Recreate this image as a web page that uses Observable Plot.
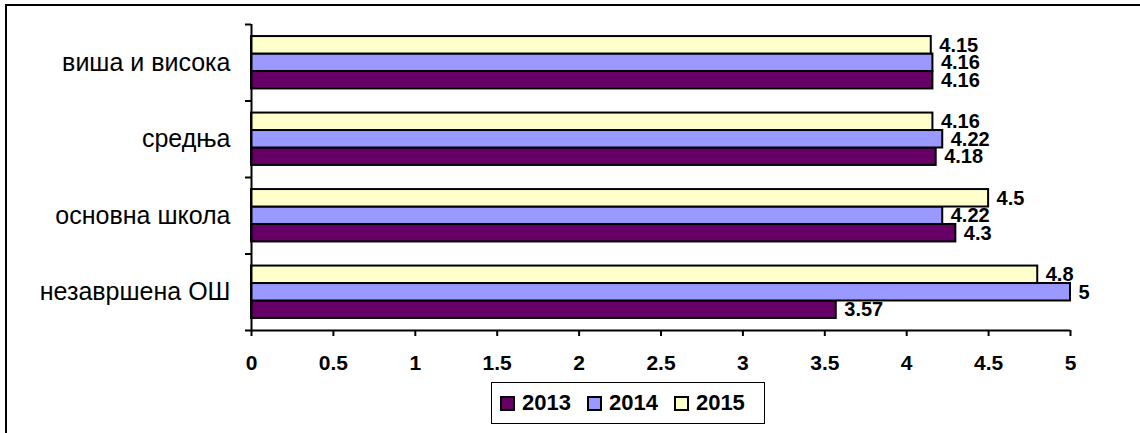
<!DOCTYPE html>
<html><head><meta charset="utf-8">
<script src="https://cdn.jsdelivr.net/npm/d3@7"></script>
<script src="https://cdn.jsdelivr.net/npm/@observablehq/plot@0.6"></script>
<style>
html,body{margin:0;padding:0;background:#fff;overflow:hidden;width:1140px;height:433px;}
body{position:relative;font-family:"Liberation Sans",Arial,sans-serif;}
#frame{position:absolute;left:5px;top:4px;width:1200px;height:500px;border:2px solid #000;box-sizing:border-box;pointer-events:none;z-index:10;}
#legend{margin-left:491px;margin-top:6px;width:274px;height:42px;box-sizing:border-box;border:1px solid #000;display:flex;align-items:center;padding-left:8px;font-weight:bold;font-size:22px;}
.item{display:flex;align-items:center;margin-right:16px;}
.sw{width:15px;height:15px;box-sizing:border-box;border:2px solid #000;margin-right:7px;}
</style></head><body>
<div id="frame"></div>
<div id="chart"></div>
<div id="legend"></div>
<script>
// categories from bottom to top
const categories = ["незавршена ОШ", "основна школа", "средња", "виша и висока"];
const years = ["2013", "2014", "2015"];
const values2013 = [3.57, 4.3, 4.18, 4.16];
const values2014 = [5, 4.22, 4.22, 4.16];
const values2015 = [4.8, 4.5, 4.16, 4.15];
const xTicks = [0, 0.5, 1, 1.5, 2, 2.5, 3, 3.5, 4, 4.5, 5];
const xTickLabels = ["0", "0.5", "1", "1.5", "2", "2.5", "3", "3.5", "4", "4.5", "5"];
const colors = ["#660066", "#9999FF", "#FFFFCC"];

const series = [values2013, values2014, values2015];
const inner = d3.scaleBand().domain(years).range([0, 1]).paddingInner(0).paddingOuter(0.69);
const rows = [];
categories.forEach((c, ci) => years.forEach((yr, k) => {
  const y1 = ci + inner(yr);
  rows.push({category: c, year: yr, value: series[k][ci], y1, y2: y1 + inner.bandwidth(), yc: y1 + inner.bandwidth() / 2});
}));

const chart = Plot.plot({
  width: 1140, height: 376,
  marginLeft: 251, marginRight: 70, marginTop: 24, marginBottom: 46,
  style: {fontFamily: "'Liberation Sans', Arial, sans-serif", background: "transparent", color: "#000"},
  x: {domain: [0, 5]},
  y: {domain: [0, 4]},
  color: {domain: years, range: colors},
  marks: [
    Plot.rect(rows, {x1: d => 0, x2: "value", y1: "y1", y2: "y2", fill: "year", stroke: "#000", strokeWidth: 2}),
    Plot.ruleX([0], {stroke: "#000", strokeWidth: 2}),
    Plot.ruleY([0], {stroke: "#000", strokeWidth: 2}),
    Plot.axisX({ticks: xTicks, tickFormat: d => xTickLabels[xTicks.indexOf(d)], tickSize: 6, tickPadding: 19, fontSize: 21, fontWeight: "bold", strokeWidth: 2, label: null}),
    Plot.axisY({ticks: [0, 1, 2, 3, 4], tickFormat: () => "", tickSize: 6, strokeWidth: 2, label: null}),
    Plot.text(categories, {x: d => 0, y: (d, i) => i + 0.5, text: d => d, dx: -21, textAnchor: "end", fontSize: 25}),
    Plot.text(rows, {x: "value", y: "yc", text: d => String(d.value), dx: 8, textAnchor: "start", fontSize: 20, fontWeight: "bold"})
  ]
});
document.getElementById("chart").appendChild(chart);

const legend = document.getElementById("legend");
years.forEach((yr, k) => {
  const it = document.createElement("div");
  it.className = "item";
  const sw = document.createElement("div");
  sw.className = "sw";
  sw.style.background = colors[k];
  const t = document.createElement("span");
  t.textContent = yr;
  it.appendChild(sw); it.appendChild(t);
  legend.appendChild(it);
});
</script>
</body></html>
